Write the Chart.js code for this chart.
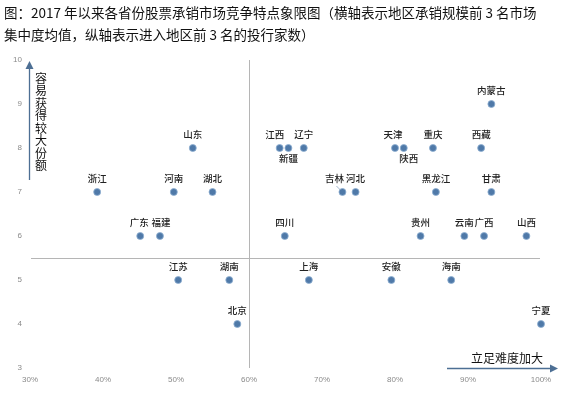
<!DOCTYPE html>
<html><head><meta charset="utf-8">
<script src="https://cdn.jsdelivr.net/npm/chart.js@4"></script>
<style>html,body{margin:0;padding:0;background:#fff;}canvas{display:block;}</style>
</head><body>
<canvas id="c" width="563" height="395"></canvas>
<script>
const provinces = ['浙江','河南','山东','湖北','广东','福建','江苏','湖南','北京','江西','新疆','辽宁','吉林','河北','四川','天津','陕西','重庆','西藏','内蒙古','黑龙江','甘肃','贵州','云南','广西','山西','上海','安徽','海南','宁夏'];
const concentration = [0.392,0.497,0.523,0.550,0.451,0.478,0.503,0.573,0.584,0.642,0.654,0.675,0.728,0.746,0.649,0.800,0.812,0.852,0.918,0.932,0.856,0.932,0.835,0.895,0.922,0.980,0.682,0.795,0.877,1.000];
const bankCount = [7,7,8,7,6,6,5,5,4,8,8,8,7,7,6,8,8,8,8,9,7,7,6,6,6,6,5,5,5,4];
const xTicks = [0.3,0.4,0.5,0.6,0.7,0.8,0.9,1.0];
const yRange = [3,10];
const xDivider = 0.60, yDivider = 5.5;
const titleLines = ['图：2017 年以来各省份股票承销市场竞争特点象限图（横轴表示地区承销规模前 3 名市场','集中度均值，纵轴表示进入地区前 3 名的投行家数）'];
const yAxisNote = '容易获得较大份额';
const xAxisNote = '立足难度加大';

const labelBelow = {'新疆':1,'陕西':1};
const labelShift = {'江西':-5,'陕西':5,'吉林':-8,'天津':-2,'广东':-1,'福建':1};
const CJK = '"Noto Sans CJK SC", sans-serif';

const deco = {
  id:'deco',
  beforeDatasetsDraw(chart){
    const {ctx, scales:{x,y}} = chart;
    ctx.save();
    ctx.strokeStyle = '#b5b5b5'; ctx.lineWidth = 1;
    const vx = Math.round(x.getPixelForValue(xDivider))+0.5;
    ctx.beginPath(); ctx.moveTo(vx, y.getPixelForValue(yRange[0])); ctx.lineTo(vx, y.getPixelForValue(yRange[1])); ctx.stroke();
    const hy = Math.round(y.getPixelForValue(yDivider))+0.5;
    ctx.beginPath(); ctx.moveTo(x.getPixelForValue(0.3)+1, hy); ctx.lineTo(x.getPixelForValue(1.0)-1, hy); ctx.stroke();
    ctx.restore();
  },
  afterDatasetsDraw(chart){
    const {ctx, scales:{x,y}} = chart;
    ctx.save();
    ctx.font = '500 9.5px ' + CJK;
    ctx.fillStyle = '#222';
    ctx.textAlign = 'center'; ctx.textBaseline = 'middle';
    const meta = chart.getDatasetMeta(0);
    meta.data.forEach((pt,i)=>{
      const name = provinces[i];
      const dy = labelBelow[name] ? 10 : -13.5;
      const dx = labelShift[name] || 0;
      ctx.fillText(name, pt.x + dx, pt.y + dy);
      if (name === '吉林') {
        ctx.strokeStyle = '#8aa4c0'; ctx.lineWidth = 0.8;
        ctx.beginPath(); ctx.moveTo(pt.x-6, pt.y-6); ctx.lineTo(pt.x-2, pt.y-2); ctx.stroke();
      }
    });
    const ax = 29.5, top = 61, bot = 180;
    ctx.strokeStyle = '#4d6f94'; ctx.fillStyle = '#4d6f94'; ctx.lineWidth = 1.3;
    ctx.beginPath(); ctx.moveTo(ax, bot); ctx.lineTo(ax, top+6); ctx.stroke();
    ctx.beginPath(); ctx.moveTo(ax, top); ctx.lineTo(ax-4, top+8); ctx.lineTo(ax+4, top+8); ctx.closePath(); ctx.fill();
    const ay = y.getPixelForValue(yRange[0]) + 0.5, l = 447, r = 558;
    ctx.beginPath(); ctx.moveTo(l, ay); ctx.lineTo(r-6, ay); ctx.stroke();
    ctx.beginPath(); ctx.moveTo(r, ay); ctx.lineTo(r-8, ay-4); ctx.lineTo(r-8, ay+4); ctx.closePath(); ctx.fill();
    ctx.fillStyle = '#111';
    ctx.font = '12px ' + CJK;
    ctx.textAlign = 'center'; ctx.textBaseline = 'middle';
    [...yAxisNote].forEach((ch,i)=> ctx.fillText(ch, 41, 78 + i*12.5));
    ctx.textAlign = 'left';
    ctx.fillText(xAxisNote, 471, 358);
    ctx.restore();
  },
  afterDraw(chart){
    const {ctx} = chart;
    ctx.save();
    ctx.fillStyle = '#111';
    ctx.font = '13.5px ' + CJK;
    ctx.textAlign = 'left'; ctx.textBaseline = 'middle';
    ctx.fillText(titleLines[0], 4, 13, 558);
    ctx.fillText(titleLines[1], 4, 35);
    ctx.restore();
  }
};

new Chart(document.getElementById('c'), {
  type:'scatter',
  data:{ datasets:[{
    data: provinces.map((p,i)=>({x:concentration[i], y:bankCount[i]})),
    backgroundColor:'#4f79a8', borderColor:'#8fb0d2', borderWidth:0.8,
    pointRadius:3.5, pointHoverRadius:3.5, clip:false
  }]},
  options:{
    responsive:false, animation:false, devicePixelRatio:1,
    layout:{padding:{top:60,right:22,bottom:0,left:0}},
    plugins:{legend:{display:false}, tooltip:{enabled:false}},
    scales:{
      x:{type:'linear', min:0.3, max:1.0,
        afterBuildTicks(s){ s.ticks = xTicks.map(v=>({value:v})); },
        afterFit(s){ s.height = 27; },
        ticks:{callback:v=>Math.round(v*100)+'%', color:'#8a8a8a', font:{size:8, family:'Liberation Sans'}, padding:7, maxRotation:0},
        grid:{display:false, drawTicks:false}, border:{display:false}},
      y:{min:yRange[0], max:yRange[1],
        afterFit(s){ s.width = 30; },
        ticks:{stepSize:1, color:'#8a8a8a', font:{size:8, family:'Liberation Sans'}, padding:8},
        grid:{display:false, drawTicks:false}, border:{display:false}}
    }
  },
  plugins:[deco]
});
</script>
</body></html>
